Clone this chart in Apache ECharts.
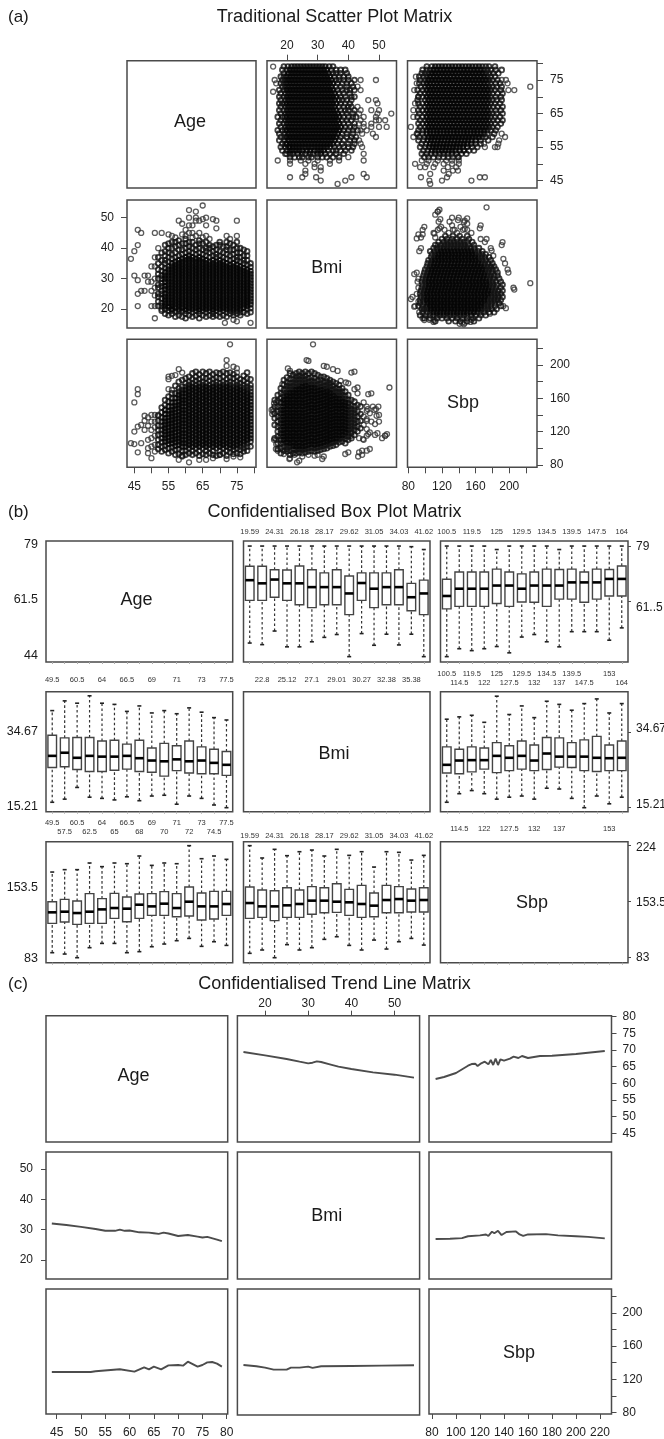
<!DOCTYPE html>
<html><head><meta charset="utf-8"><style>html,body{margin:0;padding:0;background:#fff}#c{width:664px;height:1439px}</style>
<script src="https://cdn.jsdelivr.net/npm/echarts@6/dist/echarts.min.js"></script></head><body><div id="c"></div>
<script>
// ---------- (a) scatter data: densely overprinted cores, thinner fringes, isolated points ----------
const ageBmiCore=[
[54,[21,22,23,24,25,26.5,27.5,29,30,31,32]],
[55,[21,22,23,24,25,26,27,28,29,30,31,32,33]],
[56,[20,21,22,23,24,25,26,27,28,29,30,31,32,33,34,35]],
[57,[20.5,21.5,22.5,23.5,24.5,25.5,26.5,27.5,28.5,29.5,30.5,31.5,32.5,33.5,34.5,35.5]],
[58,[20,21,22,23,24,25,26,27,28,29,30,31,32,33,34,35,36]],
[59,[20.5,21.5,22.5,23.5,24.5,25.5,26.5,27.5,28.5,29.5,30.5,31.5,32.5,33.5,34.5,35.5,36.5]],
[60,[20,21,22,23,24,25,26,27,28,29,30,31,32,33,34,35,36,37]],
[61,[20.5,21.5,22.5,23.5,24.5,25.5,26.5,27.5,28.5,29.5,30.5,31.5,32.5,33.5,34.5,35.5,36.5,37.5]],
[62,[20,21,22,23,24,25,26,27,28,29,30,31,32,33,34,35,36,37]],
[63,[20.5,21.5,22.5,23.5,24.5,25.5,26.5,27.5,28.5,29.5,30.5,31.5,32.5,33.5,34.5,35.5,36.5]],
[64,[20,21,22,23,24,25,26,27,28,29,30,31,32,33,34,35,36,37]],
[65,[20.5,21.5,22.5,23.5,24.5,25.5,26.5,27.5,28.5,29.5,30.5,31.5,32.5,33.5,34.5,35.5,36.5]],
[66,[20,21,22,23,24,25,26,27,28,29,30,31,32,33,34,35,36]],
[67,[20.5,21.5,22.5,23.5,24.5,25.5,26.5,27.5,28.5,29.5,30.5,31.5,32.5,33.5,34.5,35.5]],
[68,[20,21,22,23,24,25,26,27,28,29,30,31,32,33,34,35,36]],
[69,[20.5,21.5,22.5,23.5,24.5,25.5,26.5,27.5,28.5,29.5,30.5,31.5,32.5,33.5,34.5,35.5]],
[70,[20,21,22,23,24,25,26,27,28,29,30,31,32,33,34,35,36]],
[71,[20.5,21.5,22.5,23.5,24.5,25.5,26.5,27.5,28.5,29.5,30.5,31.5,32.5,33.5,34.5,35.5]],
[72,[20,21,22,23,24,25,26,27,28,29,30,31,32,33,34,35]],
[73,[20.5,21.5,22.5,23.5,24.5,25.5,26.5,27.5,28.5,29.5,30.5,31.5,32.5,33.5,34.5]],
[74,[20,21,22,23,24,25,26,27,28,29,30,31,32,33,34,35]],
[75,[20.5,21.5,22.5,23.5,24.5,25.5,26.5,27.5,28.5,29.5,30.5,31.5,32.5,33.5,34.5]],
[76,[20,21,22,23,24,25,26,27,28,29,30,31,32,33,34]],
[77,[20.5,21.5,22.5,23.5,24.5,25.5,26.5,27.5,28.5,29.5,30.5,31.5,32.5,33.5]],
[78,[21,22,23,24,25,26,27,28,29,30,31,32,33]],
[79,[21.5,22.5,23.5,24.5,25.5,26.5,27.5,28.5,29.5,30.5,31.5,32.5]]
];
const ageBmiFringe=[
[52,[21,22.5,24,25,27,28,30,31.5,33,35,37]],
[53,[19.5,21,22,23.5,25,26,27.5,28.5,30,31,32.5,34,36,38.5]],
[54,[18.5,20,33.5,35,36,37.5,39,41]],
[55,[18,19.5,20.5,34,35.5,37,38.5,40,41.5]],
[56,[18.5,19.5,36.5,38,40,42]],
[57,[17.5,19.3,37,38.5,40.5,42]],
[58,[18,19.2,37.5,39.5,41,42.5]],
[59,[17.5,19.4,38,39.5,41.5]],
[60,[17,18.5,19.4,38.5,40,41.5,43]],
[61,[18,19.5,39,40.5,42]],
[62,[17.5,19,38.5,40,42]],
[63,[18,19.5,38,39.5,41]],
[64,[17,18.5,19.3,38.5,40,41.5,42.5]],
[65,[18,19.5,38,39.5,41.5]],
[66,[17.5,19,37.5,39,40,42]],
[67,[18,19.5,37,38.5,40,41]],
[68,[17.5,18.5,19.3,37.5,39,40.5]],
[69,[18,19.5,37,38,39.5,41]],
[70,[17.5,19,37.5,39,41,42]],
[71,[18,19.5,37,38.5,40.5]],
[72,[17.5,19,36.5,38,39.5,40.5,42]],
[73,[18.5,19.5,36,37.5,39.5,41.5]],
[74,[18,19,36.5,38,39.5,41]],
[75,[18.5,19.5,36,37,38.5,40,42]],
[76,[18,19,35.5,37,38.5,40]],
[77,[19,35,36,37.5,39.5]],
[78,[18.5,20,34.5,36,37.5,39]],
[79,[19,20.3,33.8,35]]
];
const ageBmiSparse=[[44,36.5],[46,46],[47,45],[46,41],[45,39],[45,31],[46,29.5],[46,25],[47,26],[48,26],[46,21],[48,31],[49,31],[51,17],[51,45],[53,45],[55,44.5],[56,44],[50,34],[51,34],[51,37],[52,40],[50,29],[53,20],[54,20],[50,21],[51,21],[49,29],[51,30],[51,27],[51,24.5],[50,26],[61,52.5],[65,54],[63,52],[63,50],[63,49],[61,50],[58,49],[59,48],[61,47.5],[62,47.5],[64,49],[65,49.5],[66,50],[66,47.5],[68,49.5],[69,49],[69,46.5],[75,49],[75,44],[59,44.5],[60,44],[61,45],[62,45],[63,44],[64,45],[66,44],[71.5,15.5],[79,15.5],[74,16.5],[75,16],[57,43.5],[60,46],[62,43.5],[65,43.5],[67,43],[72,44],[73,43]];

const ageSbpCore=[
[54,[108,112,116,120,124,128,132,136,141,146]],
[55,[105,109,113,117,121,125,129,133,137,141,145,150]],
[56,[106,110,114,118,122,126,130,134,138,142,146,150,155]],
[57,[103,107,111,115,119,123,127,131,135,139,143,147,151,155,160]],
[58,[104,108,112,116,120,124,128,132,136,140,144,148,152,156,160,164]],
[59,[102,106,110,114,118,122,126,130,134,138,142,146,150,154,158,162,166]],
[60,[102,106,110,114,118,122,126,130,134,138,142,146,150,154,158,162,166,170]],
[61,[104,108,112,116,120,124,128,132,136,140,144,148,152,156,160,164,168,172]],
[62,[102,106,110,114,118,122,126,130,134,138,142,146,150,154,158,162,166,170,174]],
[63,[104,108,112,116,120,124,128,132,136,140,144,148,152,156,160,164,168,172]],
[64,[102,106,110,114,118,122,126,130,134,138,142,146,150,154,158,162,166,170,174]],
[65,[104,108,112,116,120,124,128,132,136,140,144,148,152,156,160,164,168,172]],
[66,[102,106,110,114,118,122,126,130,134,138,142,146,150,154,158,162,166,170,174]],
[67,[104,108,112,116,120,124,128,132,136,140,144,148,152,156,160,164,168,172]],
[68,[102,106,110,114,118,122,126,130,134,138,142,146,150,154,158,162,166,170,174]],
[69,[104,108,112,116,120,124,128,132,136,140,144,148,152,156,160,164,168,172]],
[70,[102,106,110,114,118,122,126,130,134,138,142,146,150,154,158,162,166,170,174]],
[71,[104,108,112,116,120,124,128,132,136,140,144,148,152,156,160,164,168,172]],
[72,[102,106,110,114,118,122,126,130,134,138,142,146,150,154,158,162,166,170,174]],
[73,[104,108,112,116,120,124,128,132,136,140,144,148,152,156,160,164,168,172]],
[74,[102,106,110,114,118,122,126,130,134,138,142,146,150,154,158,162,166,170]],
[75,[104,108,112,116,120,124,128,132,136,140,144,148,152,156,160,164,168,172]],
[76,[106,110,114,118,122,126,130,134,138,142,146,150,154,158,162,166,170]],
[77,[108,112,116,120,124,128,132,136,140,144,148,152,156,160,164,168]],
[78,[110,114,118,122,126,130,134,138,142,146,150,154,158,162,166]],
[79,[112,116,120,124,128,132,136,140,144,148,152,156,160,164]]
];
const ageSbpFringe=[
[52,[99,104,110,116,122,127,133,139]],
[53,[96,102,107,112,117,122,127,132,137,143,149]],
[54,[98,103,152,158]],
[55,[94,100,156,162]],
[56,[96,101,160,166]],
[57,[92,98,166,175]],
[58,[93,99,168,172,180]],
[59,[91,97,170,174,182]],
[60,[92,97,174,178,184]],
[61,[94,100,176,180,186]],
[62,[92,97,178,183,190]],
[63,[94,100,176,181,186,192]],
[64,[91,97,178,183,189]],
[65,[93,100,176,180,185,192]],
[66,[92,97,178,184,190]],
[67,[94,100,176,181,186,192]],
[68,[92,97,178,183,189]],
[69,[91,100,176,180,185,191]],
[70,[92,97,178,184,190]],
[71,[94,100,176,180,186,192]],
[72,[91,97,178,183,190]],
[73,[95,100,176,180,185,191]],
[74,[93,98,174,178,184,189]],
[75,[94,100,176,180,186]],
[76,[93,98,102,174,178,183]],
[77,[96,100,104,172,176,181,187]],
[78,[97,102,106,170,174,178,184,191]],
[79,[102,108,168,172,176,183]]
];
const ageSbpSparse=[[46,171],[46,165],[45,155],[73,225],[72,206],[72,199],[74,198],[75,196],[75,191],[58,195],[59,191],[55,183],[55,186],[56,187],[57,188],[55,171],[56,170],[45,120],[46,126],[48,133],[48,139],[44,106],[45,105],[47,106],[46,95],[49,94],[50,88],[49,100],[50,102],[51,104],[51,140],[50,140],[52,140],[50,132],[51,132],[48,122],[50,122],[51,115],[49,110],[61,83],[58,86],[59,90],[66,86],[70,92],[47,128],[49,127],[51,125],[50,112],[51,96],[49,137],[64,86],[68,88],[72,87],[74,90],[76,89]];

const bmiSbpCore=[
[19,[110,114,118,122,126,130,134,138,142,146,150,154,158]],
[20,[107,111,115,119,123,127,131,135,139,143,147,151,155,159,163]],
[21,[106,110,114,118,122,126,130,134,138,142,146,150,154,158,162,166]],
[22,[103,107,111,115,119,123,127,131,135,139,143,147,151,155,159,163,167]],
[23,[102,106,110,114,118,122,126,130,134,138,142,146,150,154,158,162,166,170]],
[24,[103,107,111,115,119,123,127,131,135,139,143,147,151,155,159,163,167,171]],
[25,[102,106,110,114,118,122,126,130,134,138,142,146,150,154,158,162,166,170,174]],
[26,[103,107,111,115,119,123,127,131,135,139,143,147,151,155,159,163,167,171,175]],
[27,[104,108,112,116,120,124,128,132,136,140,144,148,152,156,160,164,168,172]],
[28,[105,109,113,117,121,125,129,133,137,141,145,149,153,157,161,165,169,173]],
[29,[104,108,112,116,120,124,128,132,136,140,144,148,152,156,160,164,168,172]],
[30,[105,109,113,117,121,125,129,133,137,141,145,149,153,157,161,165,169]],
[31,[106,110,114,118,122,126,130,134,138,142,146,150,154,158,162,166,170]],
[32,[107,111,115,119,123,127,131,135,139,143,147,151,155,159,163,167]],
[33,[108,112,116,120,124,128,132,136,140,144,148,152,156,160,164,168]],
[34,[110,114,118,122,126,130,134,138,142,146,150,154,158,162,166]],
[35,[111,115,119,123,127,131,135,139,143,147,151,155,159,163]],
[36,[112,116,120,124,128,132,136,140,144,148,152,156,160]],
[37,[115,119,123,127,131,135,139,143,147,151,155,159]],
[38,[116,120,124,128,132,136,140,144,148,152,156]],
[39,[119,123,127,131,135,139,143,147,151,155]]
];
const bmiSbpFringe=[
[16,[112,128,136,142,150,158]],
[17,[99,106,114,120,126,132,138,144,150,157,164]],
[18,[94,100,106,110,114,118,122,126,130,134,138,142,146,150,155,160,166,172]],
[19,[97,102,106,162,166,170,176,182]],
[20,[96,99,103,167,171,175,179,185]],
[21,[92,97,102,170,174,178,183,190]],
[22,[94,99,171,175,179,183,188]],
[23,[94,98,174,178,182,186,190]],
[24,[95,99,175,179,183,187,192]],
[25,[94,98,178,182,186,190]],
[26,[95,99,179,183,187,192]],
[27,[96,100,176,180,184,190]],
[28,[97,101,177,181,185,192]],
[29,[96,100,176,180,184,190]],
[30,[97,101,173,177,181,188]],
[31,[98,102,174,178,182,186]],
[32,[99,103,171,175,179,186]],
[33,[100,104,172,176,180,184]],
[34,[102,106,170,174,178,182]],
[35,[103,107,167,171,175,180]],
[36,[104,108,164,168,172,178]],
[37,[107,111,163,167,171,176]],
[38,[108,112,160,164,168,172]],
[39,[106,111,115,159,163,168]],
[40,[110,114,118,122,126,130,134,138,142,146,150,154,158,164]],
[41,[112,119,123,127,131,135,139,143,147,151,158]],
[42,[116,122,126,130,134,138,142,146,150,156]],
[43,[120,126,132,138,144,152]],
[44,[124,133,141,150]]
];
const bmiSbpSparse=[[53.4,173],[46.5,165],[41,191],[28.5,225],[26.4,206],[20.3,196],[32,199],[35,195],[15,146],[15.2,141],[15.8,154],[16.4,99],[15.8,110],[16.5,105],[23.3,83],[20.8,87],[31.5,87],[39,93],[43.5,95],[43.2,90],[46,97],[52,115],[51,112],[48.7,116],[46.5,117],[48.7,129],[49.2,139],[49.8,150],[48,150],[48.5,146],[46.3,147],[46,133],[44.8,111],[43.5,112],[41,115],[43,166],[42,171],[40,178],[39.2,179],[37.5,181],[52,115],[52.6,117],[49.5,118],[50,132],[50,140],[49,147],[46,145],[47.5,166],[47.5,132],[47,119],[47,99],[44.5,92],[44.5,97],[40,95],[45,110],[46,115],[46,123],[46,135],[46,150],[45,128],[45,138],[45,155],[47,142],[43,173],[42,192],[27,205],[21,193],[33,198],[36.5,193],[24,85],[32,90],[30,92],[21,88],[19,93],[17,97],[16.5,110],[15.5,144],[15.5,147],[16.5,155],[18.5,177],[22.5,92],[25,90],[27,92],[29,91]];

// ---------- (a) axes ----------
const aAgeTicks=[45,50,55,60,65,70,75,80], aAgeLabels=[45,55,65,75];
const aSbpTicks=[80,100,120,140,160,180,200,220], aSbpLabels=[80,120,160,200];
const aBmiTicks=[20,30,40,50];

// ---------- (b) box plots: [low whisker, lower quartile, median, upper quartile, high whisker] ----------
const ageByBmiBoxes=[[48.3,61.8,68.2,72.6,79],[47.8,61.8,67.2,72.6,79],[52.1,62.8,68.4,71.5,79],[47.1,61.8,67.2,71.4,79],[47.1,60.4,67.2,72.7,79],[48.7,59.5,66,71.5,79],[50.1,60.4,66,70.5,79],[51,60.4,66,71.5,79],[44,57.3,64,69.5,79],[51.3,61.8,67.3,70.5,79],[47.6,59.5,65.5,70.5,79],[51.1,60.4,66,70.5,79],[47.7,60.4,66,71.5,79],[51.1,58.5,62.8,67.2,78.8],[44,57.3,64,68.2,77.9]];
const ageBySbpBoxes=[[44,59.1,63.2,68.5,79],[46.5,59.9,65.5,70.8,79],[45.9,59.9,65.5,70.8,79],[46.5,59.9,65.5,70.8,79],[47.2,60.8,66.5,71.7,77.9],[45.2,59.9,66.5,70.8,79],[50.2,61.3,65.5,70.2,79],[51,61.2,66.5,70.8,79],[48.7,59.9,66.5,71.7,79],[47.1,62.2,66.5,71.6,77.9],[51.9,62.2,67.5,71.7,79],[51.9,61.2,67.5,70.8,79],[51.9,62.2,67.5,71.7,79],[49.2,63.2,68.6,71.6,79],[53.1,63.2,68.6,72.7,79]];
const bmiByAgeBoxes=[[16.6,25.5,28.5,33.8,40.1],[17.4,25.7,29.3,33.1,42.6],[20.4,25,28,33.2,42],[17.9,24.5,28.5,33.2,43.9],[17.6,24.5,28.3,32.3,42],[17.2,24.8,28.3,32.5,41.7],[18,25.1,28.5,31.5,39.9],[17,24.5,27.9,32.5,41.3],[18.2,24.3,27.3,30.5,39.5],[18.4,23.3,27.1,31.7,40.1],[16.1,24.7,27.6,31.1,39.3],[18.2,24.1,27.1,32.3,40.8],[17.6,23.9,27.3,30.8,39.7],[15.9,23.9,26.7,30.2,38.3],[15.21,23.5,26.2,29.6,37.7]];
const bmiBySbpBoxes=[[16.6,24.1,26.2,30.8,37.9],[18.8,23.9,27.3,30.2,38.5],[19.6,24.4,27.4,30.8,38.9],[18.8,25.1,27.4,30.5,37.1],[17.4,24.2,28.5,31.9,43.8],[17.9,24.7,28,31.1,39.1],[18.2,25.1,28.5,32.3,41.3],[17.4,24.7,27.3,31.3,38.3],[20.2,25,29.1,33.2,42.5],[20,25.6,28.3,33.1,41.7],[17.6,25.5,28.3,31.9,40.2],[15.21,24.7,28.3,32.6,41.9],[18.2,24.5,28,33.5,43.1],[16.2,24.7,27.9,31.3,39.5],[17.9,24.7,28,32.3,41.9]];
const sbpByAgeBoxes=[[89.3,126.2,140.1,153.5,190.8],[87.6,127.9,140.9,156.4,193.8],[83,125,139.2,154.3,193.8],[95.6,126.2,140.9,163.6,202.2],[101,126.2,143.8,157.3,197.6],[101,132.5,145.5,164,202.2],[89.3,128.3,144.7,159.4,201.3],[90.6,132.5,149.7,163.1,211],[96.8,136.3,147.6,163.6,199.2],[100.2,136.3,151,166.1,202.2],[104.4,134.6,145.5,163.6,201.3],[107.3,135.5,153.5,172,224],[97.3,130.4,147.6,164.4,207.6],[103.1,131.7,147.6,166.5,211],[98.5,136.3,150.6,166.5,206.8]];
const sbpByBmiBoxes=[[88.5,132.5,151.8,172,224],[92.7,133.8,147.6,168.2,208.5],[83,129.6,147.6,167.3,219.4],[99.4,133.8,148.9,171.1,211.4],[92.7,133.8,150.6,168.2,216.4],[95.6,137.6,154.8,172.4,218.5],[106.1,139.6,154.8,171.1,211],[109.4,140.1,153.5,176.1,219.4],[98.5,136.3,152.7,169,211.8],[92.7,133.8,150.6,174,216.4],[105.2,134.6,148.5,164.4,197.1],[93.9,139.6,155.6,174,216.4],[103.1,139.6,156.8,172.4,215.6],[107.3,140.5,154.8,169.4,205.9],[98.9,140.5,155.6,171.1,211.8]];

// bin labels as printed: first and second label rows above each panel
const bmiEven=['19.59','','24.31','','26.18','','28.17','','29.62','','31.05','','34.03','','41.62'];
const bmiOdd=['','22.8','','25.12','','27.1','','29.01','','30.27','','32.38','','35.38',''];
const ageEven=['49.5','','60.5','','64','','66.5','','69','','71','','73','','77.5'];
const ageOdd=['','57.5','','62.5','','65','','68','','70','','72','','74.5',''];
const sbpTopRow=['100.5','','119.5','','125','','129.5','','134.5','','139.5','','147.5','','164'];
const sbpMidA=['100.5','','119.5','','125','','129.5','','134.5','','139.5','','','153',''];
const sbpMidB=['','114.5','','122','','127.5','','132','','137','','147.5','','','164'];
const sbpLow=['','114.5','','122','','127.5','','132','','137','','','','153',''];

// ---------- (c) trend lines ----------
const ageOnBmiX=[15,20,25,28,30,31,32,33,35,37,40,45,50,54.5];
const ageOnBmiY=[69.4,68.4,67.3,66.5,66,66.2,66.6,66.4,65.7,65,64.3,63.3,62.6,61.7];
const ageOnSbpX=[83,90,100,110,113,116,118,121,124,127,129,131,133,135,137,140,145,148,152,155,160,170,180,200,224];
const ageOnSbpY=[61.3,61.9,63.1,65.3,65.8,65.9,65.2,66,66.5,65.7,67,65.5,67.4,65.5,67.2,66.8,67.4,68,67.6,68.2,67.6,68.2,68.3,68.8,69.7];
const bmiOnAgeX=[44,47,50,53,55,57,58,59,60,62,64,65,66,67,68,70,72,74,75,76,78,79];
const bmiOnAgeY=[32,31.5,30.9,30.2,29.6,29.6,30,29.6,29.7,29.1,29,28.8,28.6,29,28.7,27.9,28.2,27.7,27.4,27.6,26.7,26.2];
const bmiOnSbpX=[83,95,105,110,120,125,127,130,132,135,138,142,150,153,156,160,175,185,200,210,224];
const bmiOnSbpY=[26.9,27,27.2,27.8,28.1,28.4,27.9,29.3,28.8,29.6,28.2,29.2,29.4,28.4,27.9,28.4,28.5,28.1,27.8,27.6,27.1];
const sbpOnAgeX=[44,52,53,58,61,63,64,65,66.5,68,70,71,72,74,75,76,77,78,79];
const sbpOnAgeY=[128.8,128.8,129.6,132,129.2,134.4,132,135.2,132,136.8,137.2,136.4,141.2,135.2,137.2,140.4,140.8,138.8,135.2];
const sbpOnBmiX=[15,18,20,22,25,26,28,30,31,33,40,47,54.5];
const sbpOnBmiY=[138,136.4,134.8,132.4,132.4,134.8,134.8,136,134.4,136.4,136.8,137.2,137.6];
const cAgeRightTicks=[45,50,55,60,65,70,75,80];
const cSbpRightTicks=[80,100,120,140,160,180,200,220], cSbpRightLabels=[80,120,160,200];
const cSbpBottomTicks=[80,100,120,140,160,180,200,220];
const cBmiTicks=[20,30,40,50];

// ---------- layout ----------
const FONT="'Liberation Sans',sans-serif";
const INK='#222', FRAME='#4a4a4a';
const grid=[],xAxis=[],yAxis=[],series=[],texts=[];
function addGrid(xr,yr){grid.push({left:xr[0],top:yr[0],width:xr[1]-xr[0],height:yr[1]-yr[0],show:true,borderColor:FRAME,borderWidth:1.5,backgroundColor:'transparent'});return grid.length-1;}
function vAxis(g,range,pos,ticks,labels,tickLen,margin){return {type:'value',gridIndex:g,min:range[0],max:range[1],position:pos||undefined,show:!!pos,axisLine:{show:false},splitLine:{show:false},
 axisTick:{show:!!ticks,length:tickLen||6,customValues:ticks,lineStyle:{color:FRAME,width:1}},
 axisLabel:{show:!!labels,customValues:labels,margin:margin||6,fontSize:12,color:INK,fontFamily:FONT,hideOverlap:false}};}
function txt(t,x,y,size,align){texts.push({type:'text',silent:true,x:x,y:y,style:{text:t,fill:'#1a1a1a',font:size+'px '+FONT,textAlign:align||'center',textVerticalAlign:'middle'}});}
const toPairs=(rows,sparse)=>rows.flatMap(r=>r[1].map(v=>[r[0],v])).concat(sparse||[]);
const swap=p=>p.map(d=>[d[1],d[0]]);
const zip=(a,b)=>a.map((v,i)=>[v,b[i]]);

// panel (a)
const aX=[[127,256],[267,396.5],[407.5,537]],aY=[[60.7,188],[200,328],[339.3,467.3]];
const aAgeX=[42.85,80.6],aAgeY=[42.8,80.75],aBmiX=[13.5,55.7],aBmiY=[13.8,55.8],aSbpX=[79,233],aSbpY=[77,231];
function scatterPanel(r,c,xr,yr,xSpec,ySpec,sets){
 const g=addGrid(aX[c],aY[r]);
 xAxis.push(vAxis(g,xr,xSpec&&xSpec[0],xSpec&&xSpec[1],xSpec&&xSpec[2],6,xSpec&&xSpec[0]==='top'?9:13));
 yAxis.push(vAxis(g,yr,ySpec&&ySpec[0],ySpec&&ySpec[1],ySpec&&ySpec[2],6,13));
 if(!sets)return;
 const xi=xAxis.length-1,yi=yAxis.length-1;
 const add=(d,size,w,col)=>series.push({type:'scatter',xAxisIndex:xi,yAxisIndex:yi,data:d,symbol:'circle',symbolSize:size,silent:true,animation:false,itemStyle:{color:'rgba(0,0,0,0)',borderColor:col,borderWidth:w}});
 add(sets[0],5,1.3,'#333');add(sets[1],4.8,1.8,'#111');add(sets[2],4.6,2,'#050505');
}
const abS=[ageBmiSparse,toPairs(ageBmiFringe),toPairs(ageBmiCore)];
const asS=[ageSbpSparse,toPairs(ageSbpFringe),toPairs(ageSbpCore)];
const bsS=[bmiSbpSparse,toPairs(bmiSbpFringe),toPairs(bmiSbpCore)];
scatterPanel(0,0,aAgeX,aAgeY,null,null,null);
scatterPanel(0,1,aBmiX,aAgeY,['top',aBmiTicks,aBmiTicks],null,abS.map(swap));
scatterPanel(0,2,aSbpX,aAgeY,null,['right',aAgeTicks,aAgeLabels],asS.map(swap));
scatterPanel(1,0,aAgeX,aBmiY,null,['left',aBmiTicks,aBmiTicks],abS);
scatterPanel(1,1,aBmiX,aBmiY,null,null,null);
scatterPanel(1,2,aSbpX,aBmiY,null,null,bsS.map(swap));
scatterPanel(2,0,aAgeX,aSbpY,['bottom',aAgeTicks,aAgeLabels],null,asS);
scatterPanel(2,1,aBmiX,aSbpY,null,null,bsS);
scatterPanel(2,2,aSbpX,aSbpY,['bottom',aSbpTicks,aSbpLabels],['right',aSbpTicks,aSbpLabels],null);

// panel (b)
const bX=[[46,232.7],[243.5,430],[440.5,628]],bY=[[541,662],[691.7,811.7],[841.7,962.7]];
const bAgeY=[42.3,80.6],bBmiY=[14.18,44.95],bSbpY=[76.7,229];
function renderBox(params,api){
 const i=api.value(0),at=k=>api.coord([i,api.value(k)]);
 const lo=at(1),q1=at(2),me=at(3),q3=at(4),hi=at(5),x=lo[0],w=4.3,cap=2;
 const ln=(x1,y1,x2,y2,st)=>({type:'line',shape:{x1,y1,x2,y2},style:st});
 const dash={stroke:'#333',lineWidth:1.2,lineDash:[2.6,2.4],fill:null},solid={stroke:'#222',lineWidth:1.6,fill:null};
 return {type:'group',children:[
  ln(x,lo[1],x,q1[1],dash),ln(x,q3[1],x,hi[1],dash),
  ln(x-cap,lo[1],x+cap,lo[1],solid),ln(x-cap,hi[1],x+cap,hi[1],solid),
  {type:'rect',shape:{x:x-w,y:q3[1],width:2*w,height:q1[1]-q3[1]},style:{fill:'#fff',stroke:'#444',lineWidth:1.4}},
  ln(x-w,me[1],x+w,me[1],{stroke:'#000',lineWidth:2.6})
 ]};
}
function boxPanel(r,c,yr,rowA,rowB,margin,boxes,rightTicks){
 const g=addGrid(bX[c],bY[r]);
 const ix=Array.from({length:15},(_,i)=>i);
 const single=!rowB;
 xAxis.push({type:'category',gridIndex:g,data:ix,position:'top',axisLine:{show:false},axisTick:{show:false},splitLine:{show:false},
  axisLabel:{show:!!rowA,interval:0,margin:margin,fontSize:7.5,lineHeight:9,color:'#333',fontFamily:FONT,hideOverlap:false,
   formatter:(v,i)=>{if(!rowA)return '';if(single)return rowA[i]||'';return rowA[i]?rowA[i]+'\n ':(rowB[i]?' \n'+rowB[i]:'');}}});
 const xi=xAxis.length-1;
 xAxis.push({type:'category',gridIndex:g,data:ix,position:'bottom',axisLine:{show:false},axisLabel:{show:false},splitLine:{show:false},axisTick:{show:true,length:2,alignWithLabel:true,interval:0,lineStyle:{color:'#aaa'}}});
 yAxis.push(vAxis(g,yr,rightTicks?'right':null,rightTicks,null,3,3));
 if(boxes)series.push({type:'custom',xAxisIndex:xi,yAxisIndex:yAxis.length-1,renderItem:renderBox,silent:true,animation:false,clip:false,
  encode:{x:0,y:[1,2,3,4,5]},data:boxes.map((b,i)=>[i].concat(b))});
}
boxPanel(0,0,bAgeY,null,null,4,null,null);
boxPanel(0,1,bAgeY,bmiEven,null,5,ageByBmiBoxes,null);
boxPanel(0,2,bAgeY,sbpTopRow,null,5,ageBySbpBoxes,[61.5,79]);
boxPanel(1,0,bBmiY,ageEven,null,7,bmiByAgeBoxes,null);
boxPanel(1,1,bBmiY,bmiOdd,null,7,null,null);
boxPanel(1,2,bBmiY,sbpMidA,sbpMidB,4,bmiBySbpBoxes,[15.21,34.67]);
boxPanel(2,0,bSbpY,ageEven,ageOdd,5,sbpByAgeBoxes,null);
boxPanel(2,1,bSbpY,bmiEven,null,1,sbpByBmiBoxes,null);
boxPanel(2,2,bSbpY,sbpLow,null,8,null,[83,153.5,224]);

// panel (c)
const cX=[[46,227.7],[237.4,419.6],[429,611.5]],cY=[[1015.7,1142],[1152,1279],[1289,1415]];
const cAgeX=[42.8,80.2],cAgeY=[42.4,80.3],cBmiX=[13.6,55.8],cBmiY=[13.7,55.6],cSbpX=[77.5,229.6],cSbpY=[78,229];
function trendPanel(r,c,xr,yr,xSpec,ySpec,pts){
 const g=addGrid(cX[c],cY[r]);
 xAxis.push(vAxis(g,xr,xSpec&&xSpec[0],xSpec&&xSpec[1],xSpec&&xSpec[2],5,xSpec&&xSpec[0]==='top'?6:13));
 yAxis.push(vAxis(g,yr,ySpec&&ySpec[0],ySpec&&ySpec[1],ySpec&&ySpec[2],5,ySpec&&ySpec[0]==='left'?13:11));
 if(pts)series.push({type:'line',xAxisIndex:xAxis.length-1,yAxisIndex:yAxis.length-1,data:pts,showSymbol:false,silent:true,animation:false,lineStyle:{color:'#4c4c4c',width:1.9}});
}
trendPanel(0,0,cAgeX,cAgeY,null,null,null);
trendPanel(0,1,cBmiX,cAgeY,['top',cBmiTicks,cBmiTicks],null,zip(ageOnBmiX,ageOnBmiY));
trendPanel(0,2,cSbpX,cAgeY,null,['right',cAgeRightTicks,cAgeRightTicks],zip(ageOnSbpX,ageOnSbpY));
trendPanel(1,0,cAgeX,cBmiY,null,['left',cBmiTicks,cBmiTicks],zip(bmiOnAgeX,bmiOnAgeY));
trendPanel(1,1,cBmiX,cBmiY,null,null,null);
trendPanel(1,2,cSbpX,cBmiY,null,null,zip(bmiOnSbpX,bmiOnSbpY));
trendPanel(2,0,cAgeX,cSbpY,['bottom',cAgeRightTicks,cAgeRightTicks],null,zip(sbpOnAgeX,sbpOnAgeY));
trendPanel(2,1,cBmiX,cSbpY,null,null,zip(sbpOnBmiX,sbpOnBmiY));
trendPanel(2,2,cSbpX,cSbpY,['bottom',cSbpBottomTicks,cSbpBottomTicks],['right',cSbpRightTicks,cSbpRightLabels],null);

// titles and labels
txt('(a)',8,17,17,'left');txt('Traditional Scatter Plot Matrix',334.5,17,18);
txt('(b)',8,512,17,'left');txt('Confidentialised Box Plot Matrix',334.5,512,18);
txt('(c)',8,984.5,17,'left');txt('Confidentialised Trend Line Matrix',334.5,984.5,18);
txt('Age',190,121.7,18);txt('Bmi',326.8,267.7,18);txt('Sbp',463,403,18);
txt('Age',136.6,600,18);txt('Bmi',334,754,18);txt('Sbp',532,902.7,18);
txt('Age',133.6,1075.7,18);txt('Bmi',326.8,1216,18);txt('Sbp',519,1352.7,18);
[['79',545],['61.5',600],['44',656],['34.67',731.7],['15.21',806.7],['153.5',887.7],['83',958.7]].forEach(a=>txt(a[0],38,a[1],12.5,'right'));
[['79',547],['61..5',608],['34.67',729],['15.21',805],['224',847.7],['153.5',903],['83',957.7]].forEach(a=>txt(a[0],636,a[1],12,'left'));

const chart=echarts.init(document.getElementById('c'),null,{renderer:'canvas'});
chart.setOption({animation:false,backgroundColor:'#fff',grid,xAxis,yAxis,series,graphic:{elements:texts}});
</script></body></html>
